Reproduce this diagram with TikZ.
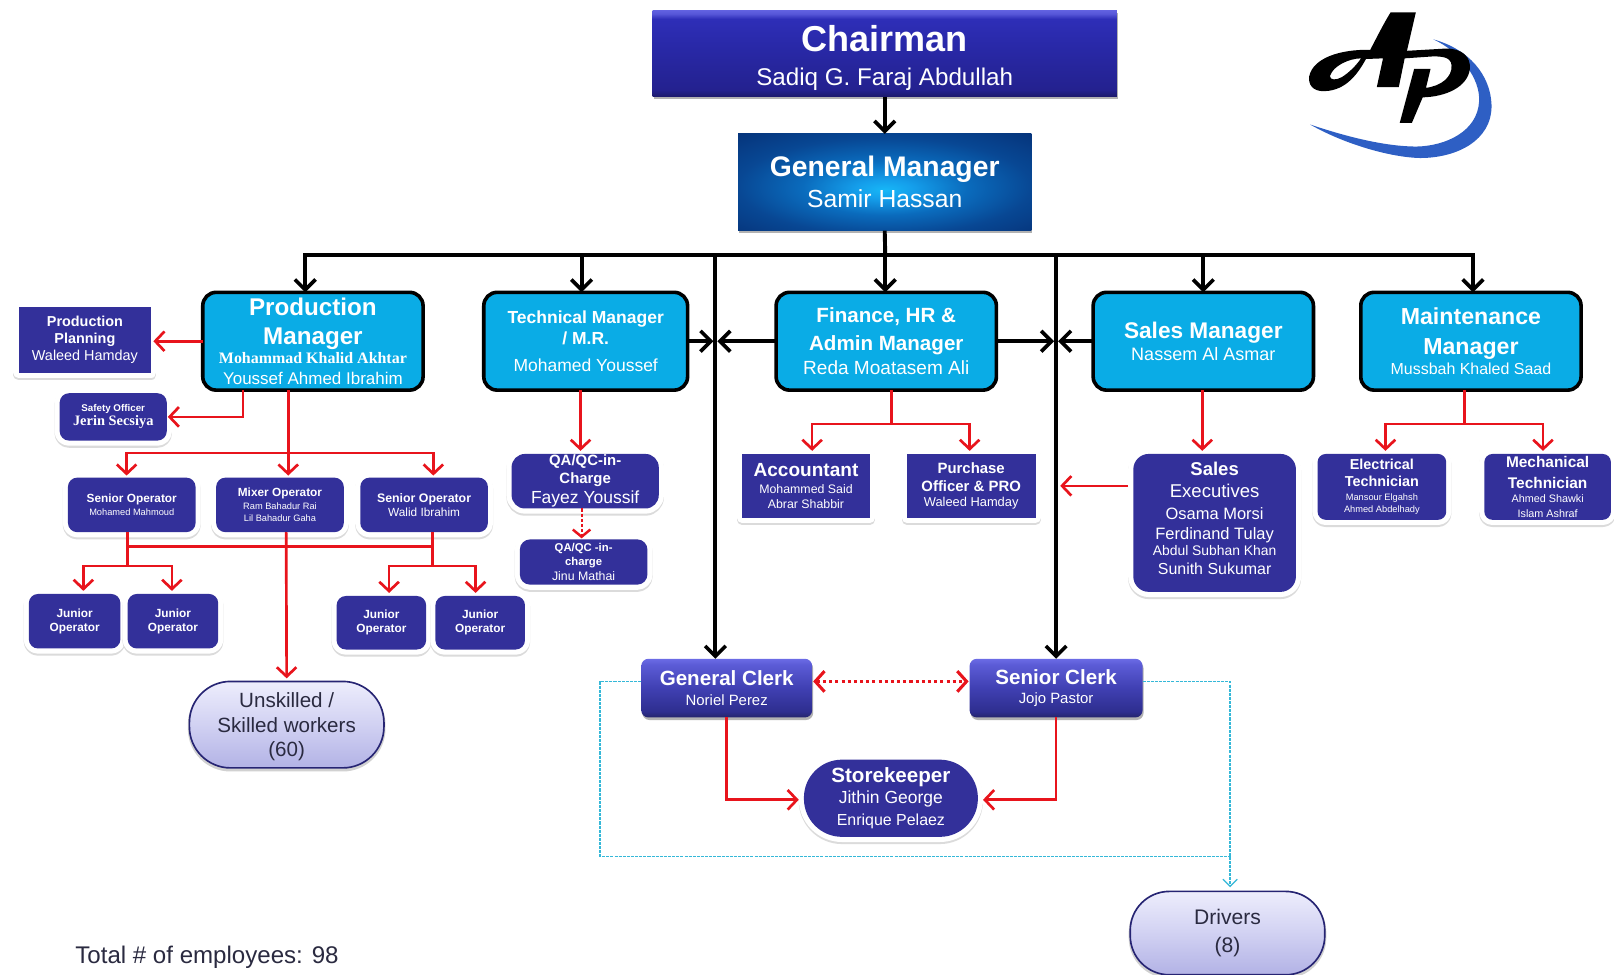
\documentclass[tikz,border=0pt]{standalone}
\usepackage{fontspec}
\setmainfont{Liberation Sans}
\newfontfamily\serfam{Liberation Serif}
\usetikzlibrary{arrows.meta}
\newcommand\fs[1]{\fontsize{#1}{\dimexpr#1pt*120/100\relax}\selectfont}
\newcommand\bx[7]{%
  \pgfmathsetmacro\bxw{#4-#2}\pgfmathsetmacro\bxh{#5-#3}%
  \pgfmathsetmacro\bxx{(#2+#4)/2}\pgfmathsetmacro\bxy{(#3+#5)/2}%
  \node[#6,minimum width=\bxw pt,minimum height=\bxh pt,text width=\bxw pt] (#1) at (\bxx,\bxy) {#7\par};}
\definecolor{navy}{HTML}{33309A}
\definecolor{sky}{HTML}{0AACE6}
\definecolor{rd}{HTML}{E8141C}
\definecolor{cyn}{HTML}{35B8D8}
\definecolor{dk}{HTML}{2A2A40}
\definecolor{swoosh}{HTML}{2E5FC4}
\pgfdeclareverticalshading{chairsh}{100bp}{rgb(0bp)=(.11,.10,.42);
  rgb(25bp)=(.11,.10,.42);rgb(29bp)=(.14,.13,.56);rgb(55bp)=(.16,.16,.66);rgb(70bp)=(.18,.18,.72);rgb(73bp)=(.34,.34,.85);rgb(75bp)=(.38,.38,.88);rgb(100bp)=(.38,.38,.88)}
\pgfdeclareverticalshading{clerksh}{100bp}{rgb(0bp)=(.14,.14,.42);
  rgb(25bp)=(.14,.14,.42);rgb(30bp)=(.18,.18,.56);rgb(50bp)=(.25,.25,.70);rgb(70bp)=(.36,.36,.84);rgb(75bp)=(.42,.42,.90);rgb(100bp)=(.42,.42,.90)}
\pgfdeclareradialshading{gmsh}{\pgfpoint{0bp}{-4bp}}{rgb(0bp)=(.09,.72,.97);rgb(5bp)=(.08,.62,.92);rgb(14bp)=(.04,.42,.74);rgb(25bp)=(.03,.28,.58);rgb(40bp)=(.02,.18,.45);rgb(50bp)=(.02,.16,.40)}
\pgfdeclareverticalshading{lavsh}{100bp}{rgb(0bp)=(.66,.66,.88);
  rgb(25bp)=(.70,.70,.90);rgb(50bp)=(.82,.82,.95);rgb(75bp)=(.93,.93,.99);rgb(100bp)=(.93,.93,.99)}
\tikzset{
  base/.style={inner sep=0pt,outer sep=0pt,align=flush center,text=white},
  halo/.style={preaction={draw=black!14,line width=10pt,line join=round,transform canvas={yshift=-2pt}},preaction={draw=white,line width=10pt,line join=round}},
  navysq/.style={base,fill=navy,halo},
  navyrd/.style={base,fill=navy,halo,rounded corners=#1},
  navyrd/.default=9pt,
  mgr/.style={base,fill=sky,draw=black,line width=3.5pt,rounded corners=13pt},
  shad/.style={preaction={fill=black!30,transform canvas={xshift=1pt,yshift=-2.5pt}}},
  chairbox/.style={base,shad,shading=chairsh},
  gmbox/.style={base,shad,shading=gmsh},
  clerk/.style={base,shad,shading=clerksh,rounded corners=7pt},
  lav/.style={base,text=dk,shading=lavsh,draw=navy!75!black,line width=1.6pt,shading angle=0,
     preaction={draw=black!18,line width=3pt,transform canvas={yshift=-2pt}}},
  blk/.style={draw=black,line width=3.8pt,-{Straight Barb[length=10pt,width=20pt,line width=3.5pt]}},
  blkl/.style={draw=black,line width=3.8pt},
  rl/.style={draw=rd,line width=2.6pt},
  ra/.style={draw=rd,line width=2.6pt,-{Straight Barb[length=9pt,width=19pt,line width=2.6pt]}},
  rdot/.style={draw=rd,line width=3pt,dash pattern=on 3pt off 3pt,{Straight Barb[length=9pt,width=20pt,line width=3pt]}-{Straight Barb[length=9pt,width=20pt,line width=3pt]}},
  rdotb/.style={draw=rd,line width=2pt,dash pattern=on 3pt off 2pt,-{Straight Barb[length=7pt,width=17pt,line width=2.4pt]}},
  cl/.style={draw=cyn,line width=1.2pt,dash pattern=on 3pt off 1pt},
  ca/.style={draw=cyn,line width=1.2pt,dash pattern=on 3pt off 1pt,-{Straight Barb[length=7pt,width=14pt,line width=1.2pt]}},
}
\begin{document}
\begin{tikzpicture}[x=1pt,y=-1pt]
\useasboundingbox (0,0) rectangle (1568,947);
\fill[white] (0,0) rectangle (1568,947);

% top
\bx{ch}{634}{10}{1085}{94}{chairbox}{\fs{35}\bfseries\rule{0pt}{34pt}Chairman\\[4pt]\fs{23.5}\mdseries Sadiq G. Faraj Abdullah}
\bx{gm}{717}{130}{1002}{224}{gmbox}{\fs{27.5}\bfseries General Manager\\[1pt]\fs{24}\mdseries Samir Hassan}

% managers
\bx{pm}{197}{284}{411}{379}{mgr}{\fs{23.5}\bfseries Production\\\fs{23.5}Manager\\\fs{15.5}\serfam\bfseries Mohammad Khalid Akhtar\\\fs{16.5}\rmfamily\mdseries Youssef Ahmed Ibrahim}
\bx{tm}{470}{284}{668}{379}{mgr}{\fs{17}\bfseries Technical Manager\\\fs{17}/ M.R.\\[6pt]\fs{17}\mdseries Mohamed Youssef}
\bx{fm}{754}{284}{968}{379}{mgr}{\fs{20}\bfseries Finance, HR \&\\[3pt]\fs{20}Admin Manager\\[1pt]\fs{18.5}\mdseries Reda Moatasem Ali}
\bx{sm}{1062}{284}{1276}{379}{mgr}{\fs{22}\bfseries Sales Manager\\\fs{17.5}\mdseries Nassem Al Asmar}
\bx{mm}{1322}{284}{1536}{379}{mgr}{\fs{22.5}\bfseries Maintenance\\[2pt]\fs{22.5}Manager\\[1pt]\fs{15.5}\mdseries Mussbah Khaled Saad}

% production side
\bx{pp}{18}{298}{147}{362}{navysq}{\fs{14}\bfseries Production\\\fs{14}Planning\\\fs{14}\mdseries Waleed Hamday}
\bx{so}{58}{382}{162}{428}{navyrd}{\fs{9.5}\bfseries Safety Officer\\[-3pt]\fs{14}\serfam\bfseries Jerin Secsiya}
\bx{s1}{66}{464}{190}{517}{navyrd}{\fs{11.5}\bfseries Senior Operator\\[2pt]\fs{9}\mdseries Mohamed Mahmoud}
\bx{mx}{210}{464}{334}{517}{navyrd}{\fs{11.5}\bfseries Mixer Operator\\[1pt]\fs{9}\mdseries Ram Bahadur Rai\\[1pt]\fs{9}Lil Bahadur Gaha}
\bx{s2}{350}{464}{474}{517}{navyrd}{\fs{12}\bfseries Senior Operator\\\fs{11.5}\mdseries Walid Ibrahim}
\bx{j1}{28}{577}{117}{630}{navyrd}{\fs{11.5}\bfseries Junior\\\fs{11.5}Operator}
\bx{j2}{124}{577}{212}{630}{navyrd}{\fs{11.5}\bfseries Junior\\\fs{11.5}Operator}
\bx{j3}{327}{579}{414}{631}{navyrd}{\fs{11.5}\bfseries Junior\\\fs{11.5}Operator}
\bx{j4}{423}{579}{510}{631}{navyrd}{\fs{11.5}\bfseries Junior\\\fs{11.5}Operator}
\bx{un}{184}{662}{373}{746}{lav,rounded corners=40pt}{\fs{20}\rule{0pt}{18.5pt}Unskilled /\\\fs{20}Skilled workers\\\fs{20}(60)}

% technical side
\bx{q1}{497}{441}{640}{494}{navyrd=13pt}{\fs{14.5}\bfseries QA/QC-in-\\\fs{14.5}Charge\\[-1pt]\fs{17}\mdseries Fayez Youssif}
\bx{q2}{505}{524}{629}{568}{navyrd=10pt}{\fs{11}\bfseries QA/QC -in-\\\fs{11}charge\\\fs{12}\mdseries Jinu Mathai}

% finance side
\bx{ac}{721}{441}{845}{503}{navysq}{\fs{18.5}\bfseries Accountant\\[2pt]\fs{12}\mdseries Mohammed Said\\\fs{12}Abrar Shabbir}
\bx{pu}{881}{441}{1006}{503}{navysq}{\fs{14.5}\bfseries Purchase\\\fs{14.5}Officer \& PRO\\\fs{12.5}\mdseries Waleed Hamday}

% sales / maintenance side
\bx{se}{1101}{441}{1259}{575}{navyrd=15pt}{\fs{18}\bfseries Sales\\\fs{18}\mdseries Executives\\[2pt]\fs{16}Osama Morsi\\\fs{16}Ferdinand Tulay\\[-1pt]\fs{13.5}Abdul Subhan Khan\\\fs{15.5}Sunith Sukumar\rule[-9pt]{0pt}{1pt}}
\bx{el}{1280}{441}{1405}{505}{navyrd=8pt}{\fs{14}\bfseries Electrical\\\fs{14}Technician\\[3pt]\fs{9}\mdseries Mansour Elgahsh\\[1pt]\fs{9}Ahmed Abdelhady}
\bx{me}{1442}{441}{1565}{505}{navyrd=8pt}{\fs{15}\bfseries Mechanical\\[2pt]\fs{15}Technician\\[1pt]\fs{10.5}\mdseries Ahmed Shawki\\[2pt]\fs{10.5}Islam Ashraf}

% clerks
\bx{gc}{623}{640}{789}{697}{clerk}{\fs{20}\bfseries General Clerk\\[1.5pt]\fs{14.5}\mdseries Noriel Perez}
\bx{sc}{942}{640}{1110}{697}{clerk}{\fs{20}\bfseries Senior Clerk\\[1.5pt]\fs{14.5}\mdseries Jojo Pastor}
\bx{sk}{781}{738}{950}{813}{navyrd=37pt}{\fs{20}\bfseries Storekeeper\\\fs{17}\mdseries Jithin George\\[2pt]\fs{15.5}Enrique Pelaez}
\bx{dr}{1098}{866}{1287}{947}{lav,rounded corners=38pt}{\fs{20.5}Drivers\\[2pt]\fs{20.5}(8)}

\node[anchor=west,inner sep=0pt,text=dk] (tot) at (73,930) {\fs{23.4}Total \# of employees: 98};

% black connectors
\coordinate (bus) at (860,248);
\coordinate (vl) at (695,248);
\coordinate (vr) at (1026,248);
\draw[blk] (ch.south) -- (gm.north);
\draw[blkl] (gm.south) -- (bus);
\draw[blk,shorten <=-1.9pt] (bus) -| ([xshift=-7.5pt]pm.north);
\draw[blk] (bus) -| ([xshift=-4pt]tm.north);
\draw[blk] (bus) -- ([xshift=-1pt]fm.north);
\draw[blk] (bus) -| (sm.north);
\draw[blk,shorten <=-1.9pt] (bus) -| ([xshift=2pt]mm.north);
\draw[blk] (vl) -- (gc.north -| vl);
\draw[blk] (vr) -- (sc.north -| vr);
\draw[blk,shorten >=2pt] (tm.east) -- (tm.east -| vl);
\draw[blk,shorten >=2pt] (fm.west) -- (fm.west -| vl);
\draw[blk,shorten >=2pt] (fm.east) -- (fm.east -| vr);
\draw[blk,shorten >=2pt] (sm.west) -- (sm.west -| vr);

% red connectors
\draw[ra,shorten >=2pt] (pm.west) -- (pm.west -| pp.east);
\draw[ra,shorten >=1pt] ([xshift=-68pt]pm.south) |- (so.east);
\coordinate (rb) at (280,440);
\draw[ra,shorten >=2pt] ([xshift=-24pt]pm.south) -- ([xshift=8pt]mx.north);
\draw[ra,shorten >=2pt] (rb) -| ([xshift=-5pt]s1.north);
\draw[ra,shorten >=2pt] (rb) -| ([xshift=9pt]s2.north);
\coordinate (jl) at (124,550);
\coordinate (jr) at (420,550);
\draw[rl] ([xshift=-4pt]s1.south) -- (jl);
\draw[rl] ([xshift=8pt]s2.south) -- (jr);
\draw[rl] ([xshift=-4pt,yshift=-14pt]s1.south) -- ([xshift=8pt,yshift=-14pt]s2.south);
\draw[ra,shorten >=3pt] (jl) -| ([xshift=8.5pt]j1.north);
\draw[ra,shorten >=3pt] (jl) -| ([xshift=-1pt]j2.north);
\draw[ra,shorten >=3pt] (jr) -| ([xshift=7.5pt]j3.north);
\draw[ra,shorten >=3pt] (jr) -| ([xshift=-4.5pt]j4.north);
\draw[ra,shorten >=3pt] ([xshift=6pt]mx.south) -- (un.north);

\draw[ra,shorten >=3pt] ([xshift=-5pt]tm.south) -- ([xshift=-4.5pt]q1.north);
\draw[rdotb,shorten >=1pt] ([xshift=-3.5pt]q1.south) -- ([xshift=-2pt]q2.north);

\coordinate (fb) at (866,412);
\draw[rl] ([xshift=5pt]fm.south) -- (fb);
\draw[ra,shorten >=3pt] (fb) -| ([xshift=6pt]ac.north);
\draw[ra,shorten >=3pt] (fb) -| ([xshift=-1.5pt]pu.north);

\draw[ra,shorten >=3pt] ([xshift=-1pt]sm.south) -- ([xshift=-12pt]se.north);
\draw[ra] ([xshift=-5pt,yshift=36pt]se.west) -- ([xshift=24pt,yshift=36pt]pu.east |- se.west);

\coordinate (mb) at (1423,412);
\draw[rl] ([xshift=-6pt]mm.south) -- (mb);
\draw[ra,shorten >=3pt] (mb) -| ([xshift=3.5pt]el.north);
\draw[ra,shorten >=3pt] (mb) -| ([xshift=-4.5pt]me.north);

\draw[ra] (gc.south) |- ([xshift=-5pt,yshift=-1.5pt]sk.west);
\draw[ra] (sc.south) |- ([xshift=5pt,yshift=-1.5pt]sk.east);
\draw[rdot,shorten <=1pt,shorten >=1pt] ([yshift=6.5pt]gc.east) -- ([yshift=6.5pt]sc.west);

% cyan dashed
\coordinate (cl1) at (583,662);
\coordinate (cl2) at (583,832);
\coordinate (cr1) at (1195,662);
\coordinate (cr2) at (1195,832);
\draw[cl] (gc.west |- cl1) -- (cl1) -- (cl2) -- (cr2);
\draw[cl] (sc.east |- cr1) -- (cr1) -- (cr2);
\draw[ca,shorten >=4pt] (cr2) -- (cr2 |- dr.north);

% logo
\begin{scope}[shift={(1185.3,0)},x=.3185pt,y=-.3185pt]
\fill[swoosh] (275,380) .. controls (380,440) and (520,480) .. (610,482)
  .. controls (720,482) and (830,430) .. (828,320)
  .. controls (825,230) and (760,150) .. (650,120)
  .. controls (730,155) and (795,240) .. (790,310)
  .. controls (785,400) and (690,445) .. (600,447)
  .. controls (500,447) and (380,415) .. (275,380) -- cycle;
\fill[black,even odd rule]
  (520,38) -- (597,38) -- (570,155) -- (690,148)
  .. controls (740,148) and (765,175) .. (762,210)
  .. controls (755,265) and (690,295) .. (618,297)
  -- (585,375) -- (548,375) -- (592,210) -- (642,210) -- (628,268)
  .. controls (675,262) and (708,235) .. (706,200)
  .. controls (705,175) and (680,172) .. (650,172)
  -- (563,178) -- (545,266) -- (478,266) -- (497,178) -- (445,180)
  .. controls (420,225) and (385,275) .. (320,278)
  .. controls (280,280) and (268,255) .. (272,232)
  .. controls (285,175) and (370,150) .. (458,152)
  .. controls (480,110) and (500,70) .. (520,38) -- cycle
  (430,178) .. controls (395,178) and (345,200) .. (335,232)
  .. controls (335,245) and (355,245) .. (372,235)
  .. controls (395,220) and (415,200) .. (430,178) -- cycle;
\end{scope}
\end{tikzpicture}
\end{document}
